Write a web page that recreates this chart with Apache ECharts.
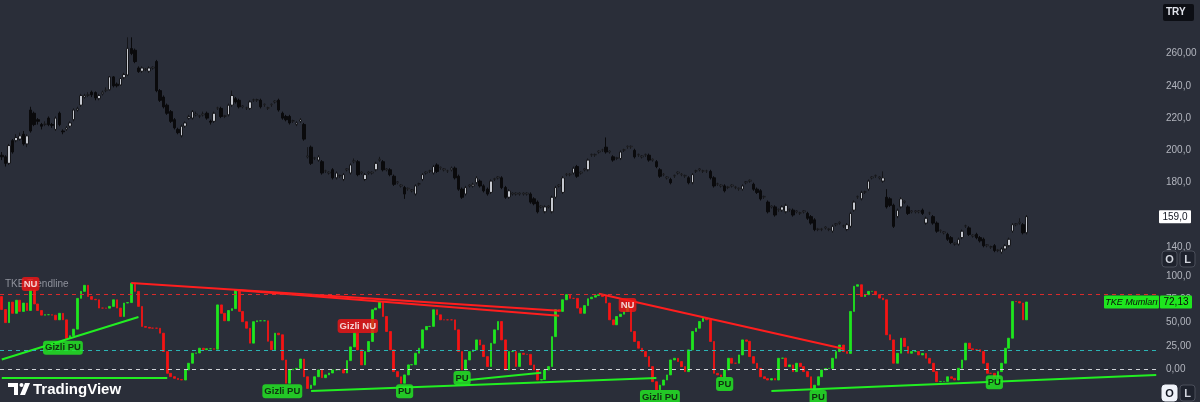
<!DOCTYPE html>
<html><head><meta charset="utf-8">
<script src="https://cdn.jsdelivr.net/npm/echarts@6/dist/echarts.min.js"></script>
<style>html,body{margin:0;padding:0;background:#2a2e39;}#c{width:1200px;height:402px;}</style>
</head><body><div id="c"></div>
<script>
// ---- price pane candles: [open, close, low, high] ----
const priceCandles = [
[197,196,194,199],[196,192,190,197],[192,203,191,204],[206,199,198,207],[206,208,205,210],[207,209,206,211],[210,204,203,212],[204,209,202,210],[225,212,211,227],[223,216,215,224],
[219,218,216,220],[216,215,213,217],[216,216.5,215,218],[220,216,215,221],[216,215.5,214,217],[213,220,212,221],[223,216,215,224],[212,211.5,210,213],[213,214,212,215],[215,217,214,218],
[219,225,218,226],[225,226,224,227],[228,234,227,235],[233,234,232,235],[234,234.5,233,236],[236,234.5,233,237],[235.8,232.5,231,236.5],[232,234,231,235],[235,236,234,237],[237,237.5,236,239],
[237.5,245.5,237,246],[245.5,240,239,246],[241,240,239,242],[240.5,244.5,240,245],[245,247,244,248],[246.7,263.2,246,270],[263,260,259,270],[262,255,254,263],[251,248.8,248,252],[249,251,248,252],
[250,250.5,249,251],[249,251,248,252],[251,251.5,250,252],[255,237,236,256],[237,231,230,238],[233,227,226,234],[228,223,222,229],[224,218,217,225],[219,214,213,220],[213,211,210,214],
[209,215,208,216],[215,217,214,218],[220,221,219,222],[220,224,219,225],[222,222.5,221,224],[221,221.5,220,222],[222,222.5,221,224],[223,220,219,224],[218,217.5,216,219],[218,223,217,224],
[226,226.5,225,227],[226,221,220,227],[221,221.5,220,222],[222,228,221,229],[228,234,227,237],[232,230,229,233],[231,227,226,232],[227,227.5,226,228],[226,226.5,225,227],[226,230,225,231],
[231,231.5,230,232],[231,231.5,230,232],[231,227,226,232],[228,228.5,227,229],[226,226.5,225,227],[228,228.5,227,229],[230,230.5,229,231],[231,225,224,232],[223,220,219,224],[221,219,218,222],
[221,217,216,222],[218,218.5,217,219],[216,217,215,218],[218,219,217,220],[216,207,206,217],[196,196.5,195,202],[202,192,191,203],[195,195.5,194,196],[194,196,193,197],[193,186,185,194],
[187,187.5,186,188],[186,186.5,185,187],[188,183,182,189],[183,186,182,187],[184,184.5,183,185],[182,185,181,186],[188,188.5,187,189],[186,191,185,192],[193,193.5,192,195],[193,185,184,194],
[186,186.5,185,187],[182,185,181,186],[186,186.5,185,187],[186,186.5,185,187],[188,192,187,193],[194,194.5,193,196],[193,188,187,194],[188,188.5,187,189],[188,185,184,189],[184,179,178,185],
[180,180.5,179,181],[178,178.5,177,179],[177,173,170,178],[176,176.5,175,177],[175,175.5,174,176],[173,178,172,179],[179,179.5,178,180],[182,185,181,186],[186,186.5,185,187],[187,187.5,186,188],
[186,190,185,191],[191,187,186,192],[189,189.5,188,190],[188,188.5,187,189],[187,187.5,186,188],[188,189,187,190],[189,183,182,190],[184,176,175,185],[176,171,170,177],[173,177,172,178],
[178,178.5,177,179],[178,179,177,180],[180,183,179,184],[181,178,177,182],[178,175,174,179],[176,173,172,177],[174,181,173,182],[182,182.5,181,183],[183,183.5,182,184],[183,177,176,184],
[177,171,170,178],[171,175,170,176],[173,173.5,172,174],[173,173.5,172,174],[173,173.5,172,174],[173,173.5,172,174],[173,173.5,172,174],[173,168,167,174],[170,167,166,171],[168,162,161,169],
[165,165.5,164,166],[162,165,161,166],[165,165.5,164,166],[162,171,161,172],[171,177,170,178],[178,178.5,177,179],[174,183,173,184],[185,185.5,184,186],[185,185.5,184,186],[186,189,185,190],
[190,184,183,191],[186,186.5,185,187],[188,188.5,187,189],[188,194,187,195],[197,197.5,196,198],[197,197.5,196,198],[199,199.5,198,200],[200,200.5,199,201],[202,199,198,208],[199,199.5,198,200],
[196,194,193,197],[195,195.5,194,196],[195,199,194,200],[200,200.5,199,201],[202,202.5,201,203],[202,202.5,201,203],[200,196,195,201],[197,197.5,196,198],[196,196.5,195,197],[197,197.5,196,198],
[197,194,193,198],[194,194.5,193,195],[193,190,189,194],[188,184,183,189],[185,185.5,184,186],[183,183.5,182,184],[182,180,179,183],[184,184.5,183,185],[186,186.5,185,187],[185,185.5,184,186],
[184,184.5,183,185],[183,180,179,184],[180,185,179,186],[187,187.5,186,188],[188,188.5,187,189],[187,187.5,186,188],[187,187.5,186,188],[187,183,182,188],[183,178,177,184],[179,179.5,178,180],
[178,178.5,177,179],[178,175,174,179],[177,177.5,176,178],[178,178.5,177,179],[177,177.5,176,178],[176,176.5,175,177],[176,178,175,179],[180,180.5,179,181],[181,181.5,180,182],[179,176,175,180],
[176,174,173,177],[175,170,169,176],[171,171.5,170,172],[168,162,161,169],[165,165.5,164,166],[165,160,159,166],[163,163.5,162,164],[163,165,162,166],[162,166,161,167],[163,163.5,162,164],
[163,160,159,164],[162,162.5,161,163],[161,161.5,160,162],[162,162.5,161,163],[161,158,157,162],[159,155,154,160],[157,151,150,158],[151,151.5,150,152],[151,151.5,150,152],[152,152.5,151,153],
[151,151.5,150,152],[150,153,149,154],[154,154.5,153,155],[155,155.5,154,156],[153,153.5,152,154],[151,154,150,155],[153,161,152,162],[163,168,162,169],[171,171.5,170,172],[170,174,169,175],
[174,174.5,173,175],[176,181,175,182],[183,183.5,182,184],[184,184.5,183,185],[183,183.5,182,184],[181,183,180,187],[171,165,164,176],[170,166,165,171],[166,153,152,167],[159,163,158,164],
[165,170,164,171],[168,168.5,167,169],[165,161,160,166],[162,162.5,161,163],[162,162.5,161,163],[162,162.5,161,163],[163,161,160,164],[155,158,154,159],[161,161.5,160,162],[159,155,154,160],
[155,150,149,156],[150,150.5,149,151],[149,149.5,148,150],[148,145,144,149],[146,143,142,147],[142,142.5,141,143],[142,145,141,146],[146,150,145,151],[153,153.5,152,154],[152,148,147,153],
[147,147.5,146,148],[148,146,145,149],[146,144,143,147],[145,141,140,146],[141,141.5,140,142],[140,140.5,139,141],[141,138,137,142],[138,138.5,137,139],[137,139,136,140],[139,141,138,142],
[141,145,140,146],[150,154,149,155],[154,154.5,153,155],[155,155.5,154,158],[154,149,148,155],[149,159,148,160]
];
// ---- TKE indicator values (each bar runs from the previous value to this one) ----
const tkeStart = 78;
const tke = [
64,50,72,60,74,62,71,63,85,70,
63,58,58.5,58.5,58,53,60,53,33,36,
43,76,83.5,90,78,75,74.5,65.6,65.6,65.5,
67.4,74.5,65.6,56.6,71,71.5,92.4,83.5,67.4,45.9,
45,44.1,44.1,44,38.7,19,-4.3,-7.9,-9.7,-11,
-11.5,-0.7,6.5,17.2,17.5,22.6,21,22,22,21.5,
69,60,52,63,65,85,62,51,44,28,
51,52,52,52,30,21,38.7,37,10,-15,
-0.7,0,1,11,-8,-20.5,-17,-8,-0.7,-9,
-6,-4,-0.7,-0.5,-0.3,-4,9.3,24,38.7,20.8,
4.7,19,29.8,63.8,65.6,72.7,56.6,40.5,20.8,-2.5,
-8,-15,-6,4.7,5,17.2,22.6,42.3,45.9,46,
63.8,58.4,53,53,53,53,42.3,19,-0.7,10,
19,20.8,31.5,26,13.6,2.9,27.9,42.3,51.2,31.5,
-0.7,19,19,3,17.2,16,16,4.7,-0.7,-11.5,
-11,-0.7,2.9,35,63.8,62,74.5,80,76,76,
65.6,60,68.3,75.6,77.3,79,80,78,71,53,
47.7,56.6,59,62,68,40.5,29.8,22.6,19,13.6,
2.9,-13.3,-22,-17,-11.5,-6,10,11.8,8.3,2.9,
-2.5,20.8,40.5,44,51.2,54.8,53,29.8,-4.3,-6,
-8,-0.7,11.8,6.5,6.5,15.4,31.5,30,13.6,6.5,
1.1,-8,-10,-11.5,-10,-11.5,11.8,12,2.9,4.7,
-2.5,6.5,2.9,-2.5,-8,-22,-17,-8,-0.7,0.9,
1,11.8,19,26,19,17,62,89,90.6,78,
80,83.5,83.5,80,76.3,74.5,37,31.5,6.5,17.2,
33.3,24.4,17.2,19,19,15.4,17,11.8,6.5,-2.5,
-13.3,-13,-13,-8,-9.7,-11.5,1.1,10,28,22,
21,21,19,6.5,-4.3,-4.3,-8,-2.5,6.5,22.6,
33.3,72.7,72.5,71,53,72.13
];
const totalSlots = 322;
const priceTicks = [140,180,200,220,240,260];
const priceTickLabels = ['140,0','180,0','200,0','220,0','240,0','260,00'];
const tkeTicks = [0,25,50,75,100];
const tkeTickLabels = ['0,00','25,00','50,00','75,00','100,0'];
const levelValues = [80, 20, 0];
const lastPrice = 159.0;
// trendlines: [[startIndex, startValue], [endIndex, endValue]]
const redLines = [
  [[36, 92.4], [155, 62.7]],
  [[65, 85], [155, 57.3]],
  [[166, 81], [234, 22]]
];
const greenLines = [
  [[0, 10.5], [38, 56]],
  [[0, -9.4], [46, -9.4]],
  [[86, -23.3], [182, -9.4]],
  [[127, -12.6], [150, -3.6]],
  [[214, -23.3], [321, -6]]
];
// signal labels: [index, value, text]
const bullSignals = [[17, 23, 'Gizli PU'], [78, -23.4, 'Gizli PU'], [112, -23.4, 'PU'], [128, -9.4, 'PU'], [183, -29.8, 'Gizli PU'], [201, -15.8, 'PU'], [227, -29.8, 'PU'], [276, -13.8, 'PU']];
const bearSignals = [[8, 91.5, 'NU'], [99, 46.5, 'Gizli NU'], [174, 69, 'NU']];

const GREEN = '#1ee61e', RED = '#f51414';
const FONT = 'Liberation Sans, Arial, sans-serif';

const chart = echarts.init(document.getElementById('c'), null, {renderer: 'canvas', width: 1200, height: 402});
const cats = Array.from({length: totalSlots}, (_, i) => String(i));

let prevColor = RED;
const tkeBars = tke.map((c, i) => {
  const o = i === 0 ? tkeStart : tke[i - 1];
  const col = c > o ? GREEN : (c < o ? RED : prevColor);
  prevColor = col;
  return {value: [o, c, Math.min(o, c), Math.max(o, c)], itemStyle: {color: col, color0: col, borderColor: col, borderColor0: col}};
});

const lineSeries = [];
redLines.forEach(l => lineSeries.push({type: 'line', xAxisIndex: 1, yAxisIndex: 1, data: l, showSymbol: false, symbol: 'none', silent: true, z: 4, lineStyle: {color: '#ff1e1e', width: 2}}));
greenLines.forEach(l => lineSeries.push({type: 'line', xAxisIndex: 1, yAxisIndex: 1, data: l, showSymbol: false, symbol: 'none', silent: true, z: 4, lineStyle: {color: '#22ee22', width: 2}}));

function sigSeries(list, bg, fg) {
  return {
    type: 'scatter', xAxisIndex: 1, yAxisIndex: 1, symbol: 'circle', symbolSize: 1, silent: true, z: 6,
    itemStyle: {color: 'rgba(0,0,0,0)'},
    data: list.map(s => ({value: [s[0], s[1]], name: s[2]})),
    label: {show: true, position: 'inside', formatter: p => p.name, color: fg, backgroundColor: bg,
      fontFamily: FONT, fontSize: 9.5, fontWeight: 'bold', padding: [2, 2, 2, 2], borderRadius: 3}
  };
}

const option = {
  animation: false,
  backgroundColor: '#2a2e39',
  grid: [
    {left: 0, right: 42, top: 0, height: 268},
    {left: 0, right: 42, top: 270, height: 132}
  ],
  xAxis: [
    {type: 'category', gridIndex: 0, data: cats, show: false, boundaryGap: true},
    {type: 'category', gridIndex: 1, data: cats, show: false, boundaryGap: true}
  ],
  yAxis: [
    {type: 'value', gridIndex: 0, position: 'right', min: 127.2, max: 293.1, scale: true,
      splitLine: {show: false}, axisLine: {show: false}, axisTick: {show: false},
      axisLabel: {customValues: priceTicks, formatter: v => priceTickLabels[priceTicks.indexOf(v)] || '',
        color: '#b2b5be', fontSize: 10, fontFamily: FONT, margin: 8, align: 'left'}},
    {type: 'value', gridIndex: 1, position: 'right', min: -35.05, max: 106.4,
      splitLine: {show: false}, axisLine: {show: false}, axisTick: {show: false},
      axisLabel: {customValues: tkeTicks, formatter: v => tkeTickLabels[tkeTicks.indexOf(v)] || '',
        color: '#b2b5be', fontSize: 10, fontFamily: FONT, margin: 8, align: 'left'}}
  ],
  series: [
    {type: 'candlestick', xAxisIndex: 0, yAxisIndex: 0, data: priceCandles, barWidth: 3, silent: true,
      itemStyle: {color: '#c4c7ce', color0: '#0a0a0c', borderColor: '#15161a', borderColor0: '#0a0a0c', borderWidth: 1}},
    {type: 'candlestick', xAxisIndex: 1, yAxisIndex: 1, data: tkeBars, barWidth: 2.2, silent: true, z: 3,
      itemStyle: {borderWidth: 0.8},
      markLine: {symbol: 'none', silent: true, animation: false, label: {show: false},
        data: [
          {yAxis: levelValues[0], lineStyle: {color: '#d92b2b', type: [4, 4], width: 1}},
          {yAxis: levelValues[1], lineStyle: {color: '#2bb5b5', type: [4, 4], width: 1}},
          {yAxis: levelValues[2], lineStyle: {color: '#cfd1d6', type: [4, 4], width: 1}}
        ]}},
    ...lineSeries,
    sigSeries(bullSignals, '#22ee22', '#0b0b0b'),
    sigSeries(bearSignals, '#f51414', '#ffffff')
  ]
};
chart.setOption(option);

const yLast = chart.convertToPixel({yAxisIndex: 1}, tke[tke.length - 1]);
const yPrice = chart.convertToPixel({yAxisIndex: 0}, lastPrice);
const fmt = (v, d) => v.toFixed(d).replace('.', ',');

function btn(x, y, txt, active) {
  return [
    {type: 'rect', z: 100, shape: {x: x, y: y, width: 15, height: 16, r: 3}, style: {fill: active ? '#f0f3fa' : '#1e222d', stroke: active ? '#f0f3fa' : '#4a4e5a', lineWidth: 1}},
    {type: 'text', z: 101, style: {x: x + 7.5, y: y + 8.5, text: txt, fill: active ? '#131722' : '#d1d4dc', font: 'bold 11px ' + FONT, align: 'center', verticalAlign: 'middle'}}
  ];
}

const graphics = [
  {type: 'text', z: 1, style: {x: 5, y: 284, text: 'TKE Trendline', fill: '#8f929c', font: '10px ' + FONT, align: 'left', verticalAlign: 'middle'}},
  {type: 'rect', z: 100, shape: {x: 1163, y: 4, width: 31, height: 17, r: 2}, style: {fill: '#0c0e14'}},
  {type: 'text', z: 101, style: {x: 1166, y: 12.5, text: 'TRY', fill: '#e0e3eb', font: 'bold 10px ' + FONT, align: 'left', verticalAlign: 'middle'}},
  {type: 'rect', z: 100, shape: {x: 1159, y: yPrice - 6.5, width: 32, height: 13, r: 1}, style: {fill: '#ffffff'}},
  {type: 'text', z: 101, style: {x: 1175, y: yPrice + 0.5, text: fmt(lastPrice, 1), fill: '#131722', font: '10px ' + FONT, align: 'center', verticalAlign: 'middle'}},
  {type: 'rect', z: 100, shape: {x: 1104, y: yLast - 6.5, width: 55, height: 13, r: 1}, style: {fill: '#1ee61e'}},
  {type: 'text', z: 101, style: {x: 1131.5, y: yLast + 0.5, text: 'TKE Mumları', fill: '#0b0b0b', font: 'italic 9px ' + FONT, align: 'center', verticalAlign: 'middle'}},
  {type: 'rect', z: 100, shape: {x: 1160, y: yLast - 6.5, width: 32, height: 13, r: 1}, style: {fill: '#1ee61e'}},
  {type: 'text', z: 101, style: {x: 1176, y: yLast + 0.5, text: fmt(tke[tke.length - 1], 2), fill: '#0b0b0b', font: '10px ' + FONT, align: 'center', verticalAlign: 'middle'}},
  ...btn(1162, 251, 'O', false), ...btn(1180, 251, 'L', false),
  ...btn(1162, 385, 'O', true), ...btn(1180, 385, 'L', false),
  // TradingView logo
  {type: 'rect', z: 100, shape: {x: 8, y: 383, width: 10, height: 4}, style: {fill: '#ffffff'}},
  {type: 'rect', z: 100, shape: {x: 14, y: 383, width: 4, height: 12}, style: {fill: '#ffffff'}},
  {type: 'circle', z: 100, shape: {cx: 21.5, cy: 385, r: 2}, style: {fill: '#ffffff'}},
  {type: 'polygon', z: 100, shape: {points: [[25, 383], [30, 383], [25, 395], [20, 395]]}, style: {fill: '#ffffff'}},
  {type: 'text', z: 100, style: {x: 33, y: 389.5, text: 'TradingView', fill: '#ffffff', font: 'bold 15px ' + FONT, align: 'left', verticalAlign: 'middle'}}
];
chart.setOption({graphic: graphics});
</script>
</body></html>
